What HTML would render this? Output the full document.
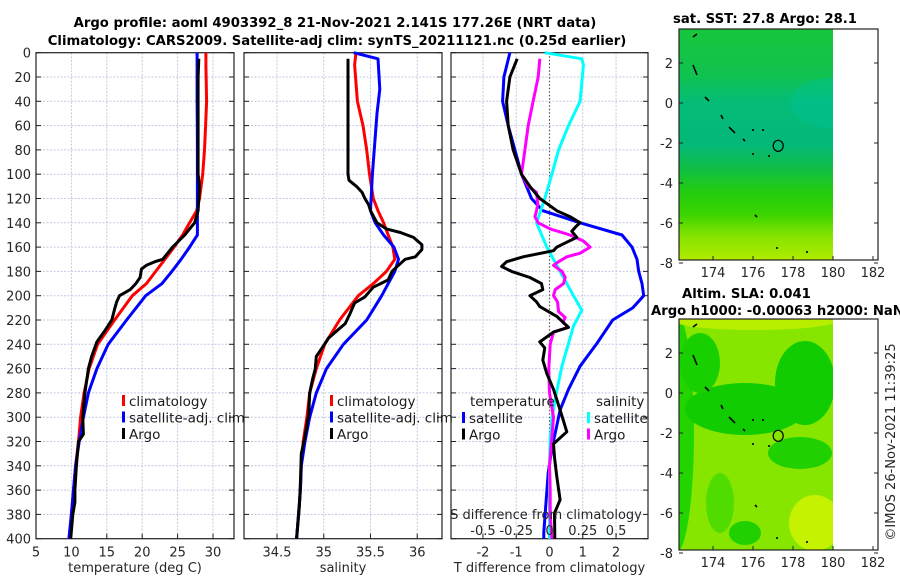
<!DOCTYPE html>
<html><head><meta charset="utf-8">
<style>
html,body{margin:0;padding:0;background:#fff;}
svg{display:block;font-family:"DejaVu Sans","Liberation Sans",sans-serif;}
.tk{font-size:13px;fill:#262626;}
.ttl{font-size:13.2px;font-weight:bold;fill:#000;}
.lg{font-size:13.5px;fill:#1a1a1a;}
</style></head>
<body>
<svg id="fig" width="900" height="580" viewBox="0 0 900 580" xmlns="http://www.w3.org/2000/svg">
<text class="ttl" x="335" y="27" text-anchor="middle">Argo profile: aoml 4903392_8 21-Nov-2021 2.141S 177.26E (NRT data)</text>
<text class="ttl" x="337" y="45" text-anchor="middle">Climatology: CARS2009. Satellite-adj clim: synTS_20211121.nc (0.25d earlier)</text>
<g id="p1"></g>
<g id="p2"></g>
<g id="p3"></g>
<g id="m1"></g>
<g id="m2"></g>
<text class="ttl" x="765" y="23" text-anchor="middle">sat. SST: 27.8 Argo: 28.1</text>
<text class="ttl" x="682" y="298">Altim. SLA: 0.041</text>
<text class="ttl" x="651" y="315">Argo h1000: -0.00063 h2000: NaN</text>
<text class="tk" x="0" y="0" transform="translate(895,442) rotate(-90)" text-anchor="middle">©IMOS 26-Nov-2021 11:39:25</text>
</svg>
<script>
// ---------- data ----------
const depthClim = [0,10,40,60,80,100,120,130,140,150,160,170,180,190,200,220,240,260,280,300,320,340,360,380,400];
const tempClim  = [29.0,29.0,29.1,28.95,28.8,28.55,28.1,27.7,26.7,25.7,24.5,23.2,21.9,20.6,18.6,16.1,13.7,12.5,11.8,11.3,11.0,10.6,10.3,10.0,9.7];
const tempSat   = [27.75,27.75,27.75,27.78,27.8,27.8,27.8,27.8,27.8,27.8,26.7,25.5,24.2,22.8,20.5,17.8,15.2,13.6,12.4,11.7,11.1,10.6,10.3,10.0,9.65];
const salClim   = [35.345,35.33,35.36,35.42,35.46,35.49,35.53,35.58,35.64,35.69,35.74,35.76,35.67,35.53,35.37,35.17,35.01,34.92,34.85,34.82,34.78,34.76,34.75,34.73,34.71];
const depthSalSat = [0,5,30,50,100,130,140,150,160,170,180,190,200,220,240,260,280,300,320,340,360,380,400];
const salSat    = [35.32,35.58,35.60,35.57,35.52,35.50,35.55,35.64,35.75,35.80,35.76,35.69,35.62,35.46,35.21,35.03,34.92,34.85,34.80,34.76,34.75,34.73,34.71];
const depthArgoT = [5,20,100,110,130,140,145,150,160,170,172,175,178,185,190,195,200,205,211,220,229,238,250,260,280,300,314,320,340,360,370,380,400];
const tempArgo   = [28.0,27.9,27.9,28.1,27.9,27.4,26.7,26.0,24.3,22.9,21.8,20.6,19.9,19.7,19.1,18.3,16.8,16.4,16.1,15.7,14.7,13.6,12.85,12.4,11.9,11.6,11.7,11.0,10.7,10.5,10.5,10.2,9.9];
const depthArgoS = [5,100,105,110,115,120,125,130,140,145,148,152,158,162,168,170,175,180,187,193,201,206,215,223,229,235,241,250,260,269,280,297,316,330,354,373,400];
const salArgo    = [35.26,35.26,35.27,35.35,35.41,35.44,35.48,35.50,35.57,35.67,35.82,35.96,36.05,36.05,35.98,35.87,35.80,35.73,35.69,35.53,35.44,35.33,35.28,35.23,35.14,35.05,35.00,34.92,34.91,34.88,34.85,34.84,34.80,34.76,34.75,34.74,34.71];
const depthDSat = [0,20,40,60,80,100,120,130,140,150,160,170,180,190,200,210,220,239,258,277,294,307,326,346,368,395,400];
const dTempSat  = [-1.19,-1.37,-1.41,-1.24,-1.04,-0.84,-0.54,-0.2,0.92,2.18,2.48,2.63,2.68,2.78,2.83,2.5,1.9,1.43,0.92,0.57,0.32,0.22,0.07,-0.04,-0.1,-0.17,-0.17];
const depthDSalSat = [0,5,10,40,60,80,100,120,140,160,180,200,212,225,258,285,301,318,340,400];
const dSalSat   = [-0.035,0.243,0.255,0.23,0.143,0.068,0.018,-0.035,-0.098,-0.02,0.08,0.18,0.243,0.18,0.093,0.043,0.018,0.005,0,0];
const depthDArgoS = [5,20,40,60,80,100,110,115,125,130,135,140,145,150,155,160,165,168,172,175,180,185,190,195,200,205,213,218,222,226,230,240,260,280,300,320,340,360,380,400];
const dSalArgo  = [-0.073,-0.085,-0.123,-0.16,-0.185,-0.21,-0.16,-0.098,-0.088,-0.098,-0.11,-0.085,0.005,0.155,0.255,0.305,0.23,0.13,0.068,0.03,0.093,0.118,0.105,0.043,0.03,0.06,0.068,0.118,0.1,0.143,0.03,0.005,-0.005,0,0.03,0.015,0,0.005,0.005,0.018];
const depthDArgoT = [5,20,40,60,80,100,110,120,130,135,140,143,147,152,156,160,163,168,172,176,180,185,190,195,200,205,209,217,226,230,238,243,253,264,277,294,312,322,333,349,368,379,400];
const dTempArgo = [-0.97,-1.19,-1.29,-1.24,-1.09,-0.84,-0.59,-0.29,0.22,0.62,0.92,0.8,0.67,0.82,0.52,0.22,0.12,-0.79,-1.29,-1.44,-1.14,-0.59,-0.24,-0.2,-0.59,-0.39,-0.29,0.22,0.57,0.12,-0.29,-0.14,-0.2,-0.08,0.12,0.32,0.52,0.12,0.15,0.22,0.32,0.15,0.16];
const depthTicks = [0,20,40,60,80,100,120,140,160,180,200,220,240,260,280,300,320,340,360,380,400];
const tempTicks = [5,10,15,20,25,30];
const salTicks = [34.5,35,35.5,36];
const dTempTicks = [-2,-1,0,1,2];
const dSalTickLabels = ["-0.5","-0.25","0","0.25","0.5"];
const dSalTicks = [-0.5,-0.25,0,0.25,0.5];
const lonTicks = [174,176,178,180,182];
const latTicks = [2,0,-2,-4,-6,-8];

const NS="http://www.w3.org/2000/svg";
function mk(parent,tag,attrs,txt){const e=document.createElementNS(NS,tag);for(const k in attrs)e.setAttribute(k,attrs[k]);if(txt!==undefined)e.textContent=txt;parent.appendChild(e);return e;}
const Y0=52.7,Y1=538.7;
const yD=d=>Y0+(d/400)*(Y1-Y0);

function panel(g,x0,x1,xmin,xmax,xticks,xlabel,yLabels){
  const sx=v=>x0+(v-xmin)/(xmax-xmin)*(x1-x0);
  for(const d of depthTicks){
    const gl=mk(g,'line',{x1:x0,x2:x1,y1:yD(d),y2:yD(d),stroke:'#c4c8e4','stroke-width':1,'stroke-dasharray':'2,1.5'});
    
    
    const t1=mk(g,'line',{x1:x0,x2:x0+5,y1:yD(d),y2:yD(d),stroke:'#222'});
    
    
    const t2=mk(g,'line',{x1:x1-5,x2:x1,y1:yD(d),y2:yD(d),stroke:'#222'});
    
    
    if(yLabels){const tl=mk(g,'text',{class:'tk',x:x0-5,y:yD(d)+5,'text-anchor':'end'},String(d));
      
      }
  }
  for(const v of xticks){
    const gl=mk(g,'line',{x1:sx(v),x2:sx(v),y1:Y0,y2:Y1,stroke:v===0&&xlabel.startsWith('T')?'none':'#c4c8e4','stroke-width':1,'stroke-dasharray':'2,1.5'});
    
    
    const t1=mk(g,'line',{x1:sx(v),x2:sx(v),y1:Y1,y2:Y1-5,stroke:'#222'});
    
    
    const tl=mk(g,'text',{class:'tk',x:sx(v),y:Y1+18,'text-anchor':'middle'},String(v));
    
    
  }
  const box=mk(g,'rect',{x:x0,y:Y0,width:x1-x0,height:Y1-Y0,fill:'none',stroke:'#222','stroke-width':1.2});
  
  
  const xl=mk(g,'text',{class:'tk',x:(x0+x1)/2,y:572,'text-anchor':'middle'},xlabel);
  
  
  return sx;
}
function line(g,sx,depths,vals,color,name,scale){
  scale=scale||1;
  const pts=depths.map((d,i)=>sx(vals[i]*scale).toFixed(1)+','+yD(d).toFixed(1)).join(' ');
  const p=mk(g,'polyline',{points:pts,fill:'none',stroke:color,'stroke-width':3,'stroke-linejoin':'round'});
  
  
}
function legend(g,x,y,items){
  items.forEach((it,i)=>{
    const yy=y+i*16.5;
    const r=mk(g,'rect',{x:x,y:yy-6,width:3,height:11,fill:it[1]});
    
    
    const t=mk(g,'text',{class:'lg',x:x+7,y:yy+5},it[0]);
    
    
  });
}
const p1=document.getElementById('p1');
const sx1=panel(p1,36,234,5,32.966,tempTicks,'temperature (deg C)',true);
line(p1,sx1,depthClim,tempClim,'#ff0000','temp-climatology-line');
line(p1,sx1,depthClim,tempSat,'#0000ff','temp-satellite-line');
line(p1,sx1,depthArgoT,tempArgo,'#000000','temp-argo-line');
legend(p1,122,401,[['climatology','#ff0000'],['satellite-adj. clim','#0000ff'],['Argo','#000']]);

const p2=document.getElementById('p2');
const sx2=panel(p2,244,442,34.147,36.265,salTicks,'salinity',false);
line(p2,sx2,depthClim,salClim,'#ff0000','sal-climatology-line');
line(p2,sx2,depthSalSat,salSat,'#0000ff','sal-satellite-line');
line(p2,sx2,depthArgoS,salArgo,'#000000','sal-argo-line');
legend(p2,330,401,[['climatology','#ff0000'],['satellite-adj. clim','#0000ff'],['Argo','#000']]);

const p3=document.getElementById('p3');
const sx3=panel(p3,451,648,-2.96,2.96,dTempTicks,'T difference from climatology',false);
const zl=mk(p3,'line',{x1:sx3(0),x2:sx3(0),y1:Y0,y2:Y1,stroke:'#555','stroke-width':1.2,'stroke-dasharray':'1.5,2'});


line(p3,sx3,depthDSat,dTempSat,'#0000ff','dtemp-satellite-line');
line(p3,sx3,depthDSalSat,dSalSat,'#00ffff','dsal-satellite-line',4);
line(p3,sx3,depthDArgoS,dSalArgo,'#ff00ff','dsal-argo-line',4);
line(p3,sx3,depthDArgoT,dTempArgo,'#000000','dtemp-argo-line');
const h1=mk(p3,'text',{class:'lg',x:470,y:406},'temperature');


const h2=mk(p3,'text',{class:'lg',x:596,y:406},'salinity');


legend(p3,462,418,[['satellite','#0000ff'],['Argo','#000']]);
legend(p3,587,418,[['satellite','#00ffff'],['Argo','#ff00ff']]);
const st=mk(p3,'text',{class:'tk',x:546,y:519,'text-anchor':'middle'},'S difference from climatology');


dSalTicks.forEach((v,i)=>{
  const t=mk(p3,'text',{class:'tk',x:sx3(v*4),y:535,'text-anchor':'middle'},dSalTickLabels[i]);
  
  
});

// ---------- maps ----------
function map(g,top,kind){
  const x0=679,x1=878,bot=top+231;
  const sxm=lon=>833+(lon-180)*20;
  const lat0=top+74;
  const sym=lat=>lat0-lat*20;
  const defs=mk(g,'defs',{});
  const cp=mk(defs,'clipPath',{id:'clip'+kind});
  mk(cp,'rect',{x:x0,y:top,width:833-x0,height:bot-top});
  const fg=mk(g,'g',{'clip-path':'url(#clip'+kind+')'});
  
  
  if(kind==='sst'){
    const lg=mk(defs,'linearGradient',{id:'gsst',x1:0,y1:0,x2:0,y2:1});
    [[0,'#18c63c'],[0.2,'#10c250'],[0.32,'#04bc78'],[0.5,'#04b878'],[0.6,'#10be48'],[0.7,'#22cc10'],[0.8,'#3ad400'],[0.9,'#88e400'],[1,'#b0ea00']].forEach(s=>mk(lg,'stop',{offset:s[0],'stop-color':s[1]}));
    const r=mk(fg,'rect',{x:x0,y:top,width:833-x0,height:bot-top,fill:'url(#gsst)'});
    
    
    const e=mk(fg,'ellipse',{cx:830,cy:sym(0),rx:40,ry:25,fill:'#00c4a0',opacity:0.35});
    
    
  } else {
    const r=mk(fg,'rect',{x:x0,y:top,width:833-x0,height:bot-top,fill:'#86e600'});
    
    
    const blobs=[[676,sym(-2),18,120,'#22d400'],[745,sym(-0.8),60,26,'#10cc00'],[805,sym(0.5),30,42,'#10cc00'],[800,sym(-3),32,16,'#20d000'],[700,sym(1.5),20,30,'#18d000'],[755,sym(3.6),80,9,'#b8ee00'],[815,sym(-6.5),26,28,'#c4f200'],[745,sym(-7),16,12,'#20d000'],[720,sym(-5.5),14,30,'#50dc00']];
    blobs.forEach(b=>{const e=mk(fg,'ellipse',{cx:b[0],cy:b[1],rx:b[2],ry:b[3],fill:b[4]});
      
      });
  }
  [[173,3.3,173.2,3.45],[173.0,1.9,173.2,1.4],[173.6,0.3,173.8,0.1],[174.4,-0.6,174.5,-0.8],[174.8,-1.2,175.1,-1.5],[175.5,-1.8,175.6,-1.9],[176.0,-1.3,176.0,-1.4],[176.5,-1.3,176.5,-1.4],[176.0,-2.5,176.0,-2.6],[176.8,-2.6,176.8,-2.7],[176.1,-5.6,176.2,-5.7],[178.7,-7.4,178.7,-7.5],[177.2,-7.2,177.2,-7.3]].forEach(c=>{
    const l=mk(g,'line',{x1:sxm(c[0]),y1:sym(c[1]),x2:sxm(c[2]),y2:sym(c[3]),stroke:'#000','stroke-width':1.6});
    
    
  });
  const c=mk(g,'ellipse',{cx:sxm(177.26),cy:sym(-2.141),rx:5,ry:5.5,fill:'none',stroke:'#000','stroke-width':1.2});
  
  
  const box=mk(g,'rect',{x:x0,y:top,width:x1-x0,height:bot-top,fill:'none',stroke:'#222','stroke-width':1.2});
  
  
  lonTicks.forEach(v=>{
    const t=mk(g,'line',{x1:sxm(v),x2:sxm(v),y1:bot,y2:bot-4,stroke:'#222'});
    
    
    const l=mk(g,'text',{class:'tk',x:sxm(v),y:bot+17,'text-anchor':'middle'},String(v));
    
    
  });
  latTicks.forEach(v=>{
    const t=mk(g,'line',{x1:x0,x2:x0+4,y1:sym(v),y2:sym(v),stroke:'#222'});
    
    
    const t2=mk(g,'line',{x1:x1-4,x2:x1,y1:sym(v),y2:sym(v),stroke:'#222'});
    
    
    const l=mk(g,'text',{class:'tk',x:x0-6,y:sym(v)+5,'text-anchor':'end'},String(v));
    
    
  });
}
map(document.getElementById('m1'),29,'sst');
map(document.getElementById('m2'),319,'sla');
</script>
</body></html>
